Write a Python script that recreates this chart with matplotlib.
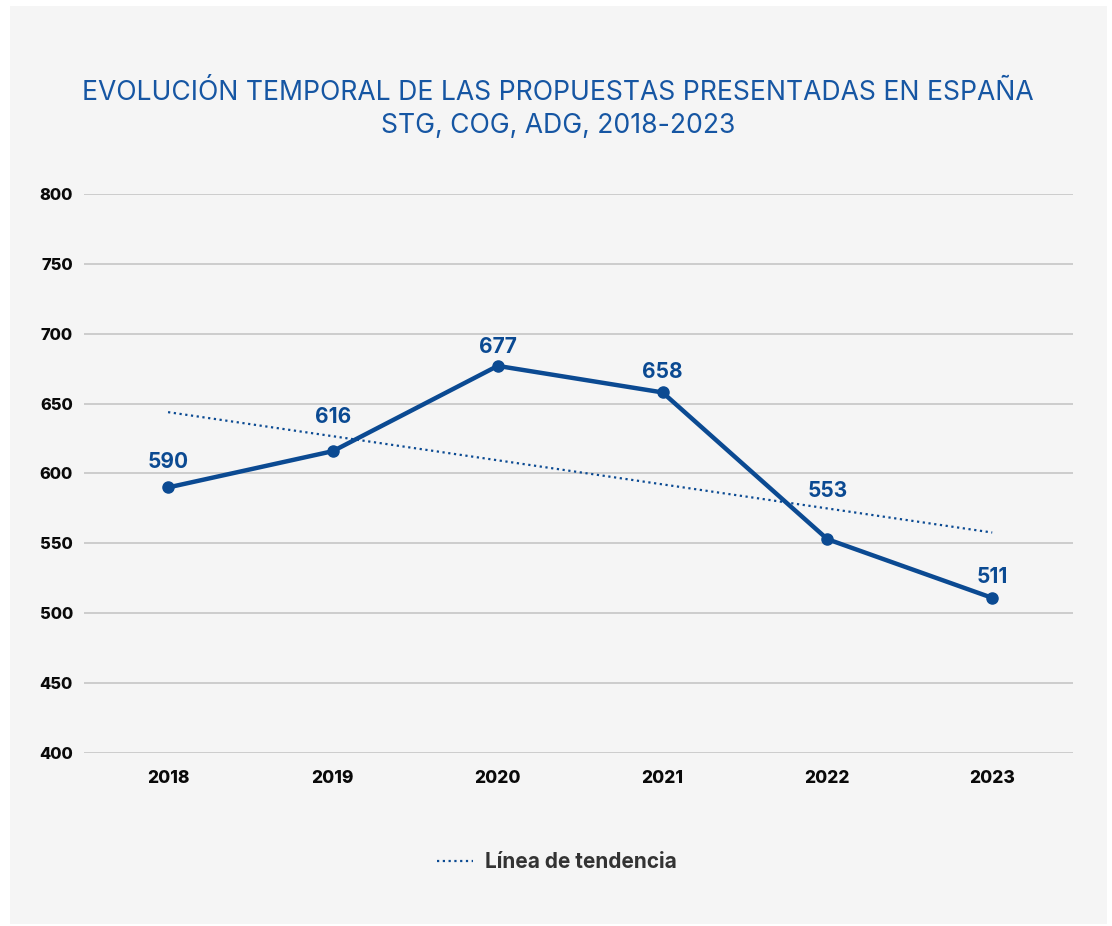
import matplotlib
matplotlib.use("Agg")
import matplotlib.pyplot as plt
import numpy as np
from matplotlib.patches import Rectangle

# Data
years = ["2018", "2019", "2020", "2021", "2022", "2023"]
propuestas = [590, 616, 677, 658, 553, 511]
# label offsets above each point (pixels)
label_dy = [25, 34, 19, 20, 48, 21]

BLUE = "#0b4a92"
TITLE_BLUE = "#1656a3"
BG = "#f5f5f5"

plt.rcParams['font.family'] = ['Inter', 'DejaVu Sans']

fig = plt.figure(figsize=(11.12, 9.26), dpi=100)
fig.patch.set_facecolor("white")
W, H = 1112, 926
fig.patches.append(Rectangle((10 / W, 1 - 924 / H), 1097 / W, 918 / H,
                             transform=fig.transFigure, facecolor=BG,
                             edgecolor="none", zorder=-10))

ax = fig.add_axes([84 / W, 1 - 753 / H, (1073 - 84) / W, (753 - 194) / H])
ax.set_facecolor(BG)
ax.patch.set_alpha(0)

x = np.arange(len(years))
ax.plot(x, propuestas, color=BLUE, lw=3.2, marker="o", ms=8, zorder=3)

# linear trend
coef = np.polyfit(x, propuestas, 1)
trend = np.polyval(coef, x)
ax.plot(x, trend, color=BLUE, lw=1.6, ls=(0, (1, 1.6)), zorder=2,
        label="Línea de tendencia")

for xi, v, dy in zip(x, propuestas, label_dy):
    ax.annotate(str(v), (xi, v), xytext=(0, dy), textcoords="offset pixels",
                ha="center", va="center", color=BLUE, fontsize=15,
                fontweight="bold")

ax.set_ylim(400, 800)
ax.set_xlim(-0.51, 5.49)
ax.set_yticks(range(400, 801, 50))
ax.set_xticks(x)
ax.set_xticklabels(years)
ax.grid(axis="y", color="#c6c6c6", lw=1.2)
ax.set_axisbelow(True)
for s in ax.spines.values():
    s.set_visible(False)
ax.tick_params(length=0, labelcolor="#0a0a0a")
ax.tick_params(axis="y", pad=8, labelsize=11.8)
ax.tick_params(axis="x", pad=12, labelsize=12.5)
for lab in ax.get_xticklabels() + ax.get_yticklabels():
    lab.set_fontweight("heavy")

fig.text(558 / W, 1 - 93 / H,
         "EVOLUCIÓN TEMPORAL DE LAS PROPUESTAS PRESENTADAS EN ESPAÑA",
         ha="center", va="center", color=TITLE_BLUE, fontsize=19.1,
         fontweight="normal")
fig.text(558 / W, 1 - 126 / H, "STG, COG, ADG, 2018-2023",
         ha="center", va="center", color=TITLE_BLUE, fontsize=19.1,
         fontweight="normal")

leg = ax.legend(loc="center", bbox_to_anchor=(557 / W, 1 - 862 / H),
                bbox_transform=fig.transFigure, frameon=False,
                handlelength=1.7, handletextpad=0.6,
                prop={"size": 15, "weight": "bold"})
for t in leg.get_texts():
    t.set_color("#333333")

fig.savefig("out.png", dpi=100, facecolor=fig.get_facecolor())
